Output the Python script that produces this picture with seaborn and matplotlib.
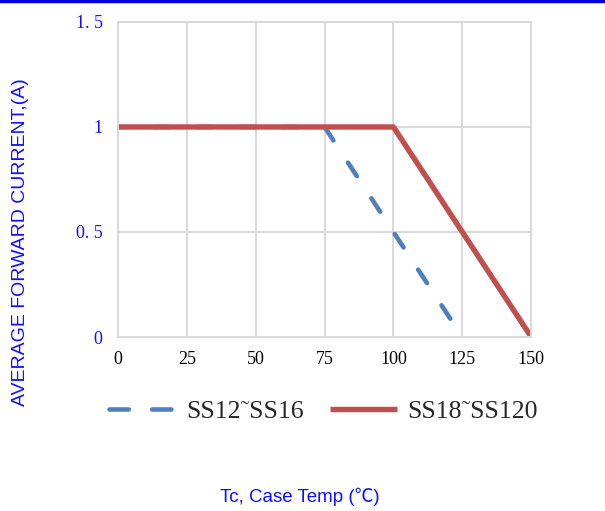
import matplotlib
matplotlib.use("Agg")
import matplotlib.pyplot as plt
import seaborn as sns
import pandas as pd
from matplotlib.lines import Line2D

temp_a = [0, 75, 125]
current_a = [1, 1, 0]
temp_b = [0, 100, 150]
current_b = [1, 1, 0]
label_a = "SS12˜SS16"
label_b = "SS18˜SS120"
x_ticks = [0, 25, 50, 75, 100, 125, 150]
y_ticks = [0, 0.5, 1, 1.5]
y_tick_labels = ["0", "0. 5", "1", "1. 5"]

sns.set_theme(style="white")
plt.rcParams['font.family'] = ['Liberation Serif', 'DejaVu Serif']

fig = plt.figure(figsize=(6.05, 5.11), dpi=100)
ax = fig.add_axes([0.195, 0.3405, 0.683, 0.6165])

blue = "#4f7fbf"
red = "#c0504d"
txt_blue = "#1010ff"

df_a = pd.DataFrame({"t": temp_a, "i": current_a})
df_b = pd.DataFrame({"t": temp_b, "i": current_b})
sns.lineplot(data=df_a, x="t", y="i", ax=ax, color=blue, lw=3.3,
             linestyle=(1.4, (3.5, 5.8)), dash_capstyle="round", legend=False)
sns.lineplot(data=df_b, x="t", y="i", ax=ax, color=red, lw=3.9,
             solid_capstyle="butt", legend=False)

ax.set_xlim(0, 150)
ax.set_ylim(0, 1.5)
ax.set_xticks(x_ticks)
ax.set_xticklabels([str(v) for v in x_ticks], fontsize=13, color="black")
ax.set_yticks(y_ticks)
ax.set_yticklabels(y_tick_labels, fontsize=13, color=txt_blue)
ax.tick_params(axis="x", length=0, pad=10)
ax.tick_params(axis="y", length=0, pad=11)
ax.grid(True, color="#d9d9d9", lw=1.4)
for s in ax.spines.values():
    s.set_color("#d9d9d9")
    s.set_linewidth(1.4)

ax.set_xlabel("")
ax.set_ylabel("")

fig.text(0.034, 0.527, "AVERAGE FORWARD CURRENT,(A)", rotation=90, ha="center", va="center",
         color=txt_blue, fontsize=14, family=['Liberation Sans', 'DejaVu Sans'])
fig.text(0.495, 0.027, "Tc, Case Temp (℃)", ha="center", va="center",
         color=txt_blue, fontsize=13.5, family=['Liberation Sans', 'Noto Sans CJK SC', 'DejaVu Sans'])

h_a = Line2D([], [], color=blue, lw=3.3, linestyle=(0, (4.2, 5.1)), dash_capstyle="round")
h_b = Line2D([], [], color=red, lw=3.9, solid_capstyle="butt")
leg = ax.legend([h_a, h_b], [label_a, label_b], loc="center", bbox_to_anchor=(0.497, -0.235),
                ncol=2, frameon=False, fontsize=18.5, handlelength=2.6,
                handletextpad=0.4, columnspacing=1.0)

fig.add_artist(Line2D([0, 1], [0.998, 0.998], transform=fig.transFigure, color="#0000e0", lw=2.5))

fig.savefig("out.png", dpi=100)
